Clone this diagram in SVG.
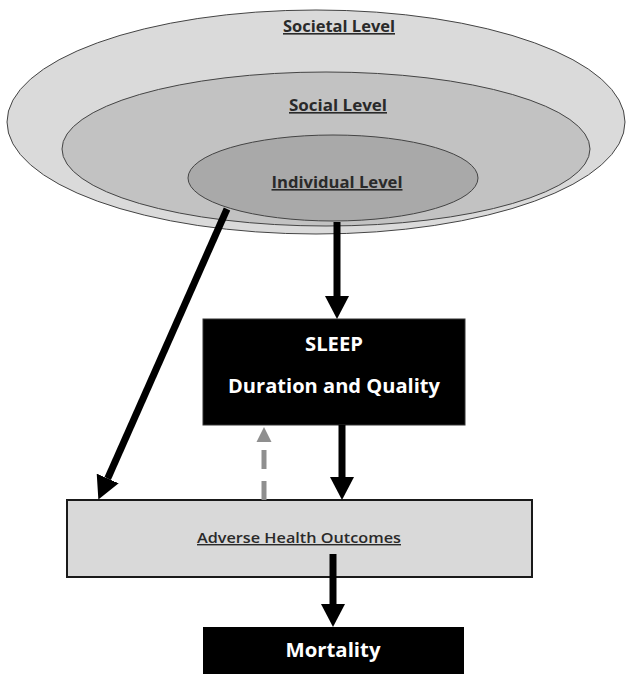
<svg xmlns="http://www.w3.org/2000/svg" width="627" height="674" viewBox="0 0 627 674">
  <style>
    .lvl { font-family: "Open Sans", "Liberation Sans", sans-serif; font-weight: bold; font-size: 16px; fill: #2a2a2a; text-anchor: middle; text-decoration: underline; }
    .wt { font-family: "Open Sans", "Liberation Sans", sans-serif; font-weight: bold; fill: #ffffff; text-anchor: middle; }
    .adv { font-family: "Open Sans", "Liberation Sans", sans-serif; font-weight: 600; font-size: 14px; fill: #2a2a2a; text-anchor: middle; text-decoration: underline; }
    .ell { stroke: #444; stroke-width: 1; }
    .arr { stroke: #000; stroke-width: 7; fill: none; }
    .dash { stroke: #8f8f8f; stroke-width: 5; fill: none; stroke-dasharray: 19 12; }
  </style>
  <defs>
    <marker id="head" markerUnits="userSpaceOnUse" markerWidth="24" markerHeight="26" refX="0" refY="12" orient="auto" viewBox="0 0 24 24">
      <path d="M0,0 L23,12 L0,24 z" fill="#000"/>
    </marker>
    <marker id="headg" markerUnits="userSpaceOnUse" markerWidth="16" markerHeight="16" refX="0" refY="7.5" orient="auto" viewBox="0 0 16 15">
      <path d="M0,0 L15,7.5 L0,15 z" fill="#8f8f8f"/>
    </marker>
  </defs>
  <rect x="0" y="0" width="627" height="674" fill="#ffffff"/>

  <g id="societal">
    <ellipse class="ell" cx="316" cy="122" rx="309" ry="112" fill="#dadada"/>
    <text class="lvl" x="339" y="32" textLength="112" lengthAdjust="spacingAndGlyphs">Societal Level</text>
  </g>
  <g id="social">
    <ellipse class="ell" cx="326" cy="149" rx="264" ry="77" fill="#c2c2c2"/>
    <text class="lvl" x="338" y="111" textLength="98" lengthAdjust="spacingAndGlyphs">Social Level</text>
  </g>
  <g id="individual">
    <ellipse class="ell" cx="333" cy="178" rx="145" ry="43" fill="#a9a9a9"/>
    <text class="lvl" x="337" y="188" textLength="131" lengthAdjust="spacingAndGlyphs">Individual Level</text>
  </g>

  <g id="sleep">
    <rect x="203" y="319" width="262" height="106" fill="#000" stroke="#333" stroke-width="1"/>
    <text class="wt" x="334" y="351" font-size="19" textLength="58" lengthAdjust="spacingAndGlyphs">SLEEP</text>
    <text class="wt" x="334" y="393" font-size="19" textLength="212" lengthAdjust="spacingAndGlyphs">Duration and Quality</text>
  </g>

  <g id="adverse">
    <rect x="67" y="500" width="465" height="77" fill="#d9d9d9" stroke="#1a1a1a" stroke-width="2"/>
    <text class="adv" x="299" y="543" textLength="204" lengthAdjust="spacingAndGlyphs">Adverse Health Outcomes</text>
  </g>

  <g id="mortality">
    <rect x="203" y="627" width="261" height="60" fill="#000"/>
    <text class="wt" x="333" y="657" font-size="20" textLength="95" lengthAdjust="spacingAndGlyphs">Mortality</text>
  </g>

  <g id="connectors">
    <line class="arr" x1="337" y1="222" x2="337" y2="296" marker-end="url(#head)"/>
    <line class="arr" x1="227" y1="209" x2="107.7" y2="478.5" marker-end="url(#head)"/>
    <line class="arr" x1="342" y1="425" x2="342" y2="477" marker-end="url(#head)"/>
    <line class="arr" x1="333" y1="554" x2="333" y2="604" marker-end="url(#head)"/>
    <line class="dash" x1="264" y1="500" x2="264" y2="442" marker-end="url(#headg)"/>
  </g>
</svg>
